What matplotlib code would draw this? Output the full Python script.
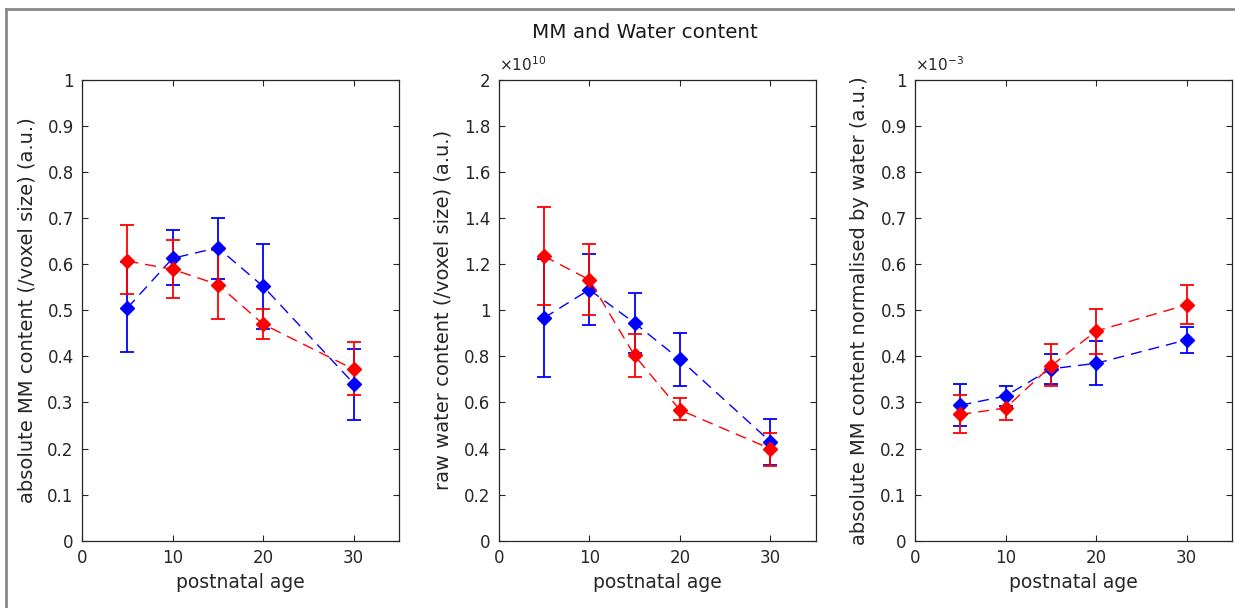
import numpy as np
import matplotlib
matplotlib.use('Agg')
import matplotlib.pyplot as plt
from matplotlib.lines import Line2D

age = [5, 10, 15, 20, 30]

# panel 1: absolute MM content
mm_blue = [0.505, 0.613, 0.636, 0.552, 0.341]
mm_blue_lo = [0.409, 0.554, 0.567, 0.459, 0.262]
mm_blue_hi = [0.604, 0.674, 0.700, 0.643, 0.417]
mm_red = [0.607, 0.589, 0.556, 0.470, 0.372]
mm_red_lo = [0.535, 0.527, 0.481, 0.437, 0.316]
mm_red_hi = [0.685, 0.652, 0.630, 0.504, 0.431]

# panel 2: raw water content (x 1e10)
w_blue = [0.967, 1.090, 0.945, 0.787, 0.430]
w_blue_lo = [0.710, 0.935, 0.814, 0.671, 0.330]
w_blue_hi = [1.224, 1.243, 1.075, 0.901, 0.530]
w_red = [1.235, 1.133, 0.804, 0.568, 0.399]
w_red_lo = [1.025, 0.981, 0.710, 0.525, 0.325]
w_red_hi = [1.450, 1.287, 0.896, 0.620, 0.468]

# panel 3: MM normalised by water (x 1e-3)
n_blue = [0.294, 0.314, 0.373, 0.385, 0.436]
n_blue_lo = [0.248, 0.293, 0.340, 0.338, 0.408]
n_blue_hi = [0.341, 0.335, 0.405, 0.434, 0.463]
n_red = [0.274, 0.288, 0.379, 0.455, 0.512]
n_red_lo = [0.233, 0.261, 0.335, 0.405, 0.470]
n_red_hi = [0.316, 0.313, 0.428, 0.503, 0.554]

panels = [
    (mm_blue, mm_blue_lo, mm_blue_hi, mm_red, mm_red_lo, mm_red_hi,
     'absolute MM content (/voxel size) (a.u.)', 1.0, 0.1, None),
    (w_blue, w_blue_lo, w_blue_hi, w_red, w_red_lo, w_red_hi,
     'raw water content (/voxel size) (a.u.)', 2.0, 0.2, '×10$^{10}$'),
    (n_blue, n_blue_lo, n_blue_hi, n_red, n_red_lo, n_red_hi,
     'absolute MM content normalised by water (a.u.)', 1.0, 0.1, '×10$^{-3}$'),
]

plt.rcParams['font.family'] = 'DejaVu Sans'
fig = plt.figure(figsize=(12.35, 6.08), dpi=100)

lefts = [82 / 1235, 498.7 / 1235, 915 / 1235]
w = 317 / 1235
b = (608 - 540.7) / 608
h = 460.7 / 608


def fmt(v):
    s = ('%.1f' % v).rstrip('0').rstrip('.')
    return s


for left, p in zip(lefts, panels):
    yb, yb_lo, yb_hi, yr, yr_lo, yr_hi, ylabel, ymax, step, mult = p
    ax = fig.add_axes([left, b, w, h])
    for y, lo, hi, c in [(yb, yb_lo, yb_hi, 'blue'), (yr, yr_lo, yr_hi, 'red')]:
        y = np.array(y)
        err = [y - np.array(lo), np.array(hi) - y]
        ax.errorbar(age, y, yerr=err, color=c, ecolor=c, linestyle=(0, (8, 5)),
                    linewidth=1.0, elinewidth=1.3, capsize=5, capthick=1.3,
                    marker='D', markersize=7.5, markerfacecolor=c,
                    markeredgecolor=c)
    ax.set_xlim(0, 35)
    ax.set_ylim(0, ymax)
    ax.set_xticks([0, 10, 20, 30])
    yt = np.arange(0, ymax + step / 2, step)
    ax.set_yticks(yt)
    ax.set_yticklabels([fmt(v) for v in yt])
    ax.tick_params(direction='in', length=4, width=0.8, top=True, right=True,
                   labelsize=12, colors='#262626', labelcolor='#262626', pad=6)
    for s in ax.spines.values():
        s.set_color('#262626')
        s.set_linewidth(0.9)
    ax.set_xlabel('postnatal age', fontsize=13.5, color='#262626', labelpad=4)
    ax.set_ylabel(ylabel, fontsize=14, color='#262626', labelpad=8)
    if mult:
        ax.text(0.0, 1.012, mult, transform=ax.transAxes, fontsize=11,
                color='#262626', ha='left', va='bottom')

fig.text(645 / 1235, 1 - 33 / 608, 'MM and Water content', fontsize=14.3,
         color='#1a1a1a', ha='center', va='center')

# thin grey frame around the figure (top and left edges visible)
fig.add_artist(Line2D([6 / 1235, 1.0], [1 - 9 / 608, 1 - 9 / 608],
                      transform=fig.transFigure, color='#8a8a8a', lw=2))
fig.add_artist(Line2D([6 / 1235, 6 / 1235], [0, 1 - 9 / 608],
                      transform=fig.transFigure, color='#8a8a8a', lw=2))

fig.savefig('out.png', dpi=100)
